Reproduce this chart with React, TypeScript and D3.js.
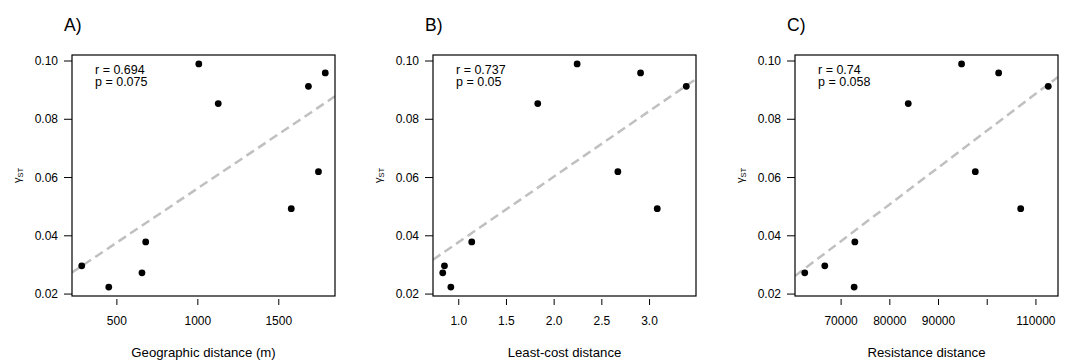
import React from "react";
import * as d3 from "d3";

// gamma_ST values (same order in all panels)
const gammaST = [0.099, 0.0854, 0.0913, 0.0959, 0.062, 0.0493, 0.0379, 0.0297, 0.0273, 0.0224];
const geographicDist = [1006, 1126, 1683, 1787, 1745, 1577, 678, 283, 655, 450];
const leastCostDist = [2.241, 1.828, 3.385, 2.906, 2.668, 3.081, 1.136, 0.85, 0.832, 0.917];
const resistanceDist = [94733, 83786, 112531, 102346, 97551, 106872, 72819, 66646, 62531, 72675];

const yTicks = [0.02, 0.04, 0.06, 0.08, 0.1];
const yTickLabels = ["0.02", "0.04", "0.06", "0.08", "0.10"];

const geoTicks = [500, 1000, 1500];
const geoTickLabels = ["500", "1000", "1500"];
const lcTicks = [1.0, 1.5, 2.0, 2.5, 3.0];
const lcTickLabels = ["1.0", "1.5", "2.0", "2.5", "3.0"];
const resTicks = [70000, 80000, 90000, 100000, 110000];
const resTickLabels = ["70000", "80000", "90000", "", "110000"];

const panelTitles = ["A)", "B)", "C)"];
const xTitles = ["Geographic distance (m)", "Least-cost distance", "Resistance distance"];
const rTexts = ["r = 0.694", "r = 0.737", "r = 0.74"];
const pTexts = ["p = 0.075", "p = 0.05", "p = 0.058"];

const FONT = "'Liberation Sans', Arial, Helvetica, sans-serif";

function padDomain(vals: number[]): [number, number] {
  const [lo, hi] = d3.extent(vals) as [number, number];
  const pad = (hi - lo) * 0.04;
  return [lo - pad, hi + pad];
}

interface PanelProps {
  left: number;
  xs: number[];
  ys: number[];
  xTicks: number[];
  xTickLabels: string[];
  title: string;
  xTitle: string;
  rText: string;
  pText: string;
  id: string;
}

function Panel({ left, xs, ys, xTicks, xTickLabels, title, xTitle, rText, pText, id }: PanelProps) {
  const top = 55;
  const bottom = 296;
  const width = 263;
  const right = left + width;
  const x = d3.scaleLinear().domain(padDomain(xs)).range([left, right]);
  const y = d3.scaleLinear().domain(padDomain(ys)).range([bottom, top]);

  // OLS fit
  const mx = d3.mean(xs) as number;
  const my = d3.mean(ys) as number;
  let sxy = 0;
  let sxx = 0;
  xs.forEach((xi, i) => {
    sxy += (xi - mx) * (ys[i] - my);
    sxx += (xi - mx) * (xi - mx);
  });
  const slope = sxy / sxx;
  const intercept = my - slope * mx;
  const [d0, d1] = x.domain();
  const line = d3.line<number>().x((v) => x(v)).y((v) => y(intercept + slope * v));
  const cy = (top + bottom) / 2;

  return (
    <g fontFamily={FONT}>
      <defs>
        <clipPath id={id}>
          <rect x={left} y={top} width={width} height={bottom - top} />
        </clipPath>
      </defs>
      <text x={left - 8} y={31} fontSize={17.5}>{title}</text>
      <path
        d={line([d0, d1]) || ""}
        stroke="#c0c0c0"
        strokeWidth={2.5}
        strokeDasharray="9,5"
        fill="none"
        clipPath={`url(#${id})`}
      />
      {xs.map((xi, i) => (
        <circle key={i} cx={x(xi)} cy={y(ys[i])} r={3.4} fill="#000" />
      ))}
      <rect x={left} y={top} width={width} height={bottom - top} fill="none" stroke="#000" strokeWidth={1.2} />
      {yTicks.map((t, i) => (
        <g key={i}>
          <line x1={left - 8} x2={left} y1={y(t)} y2={y(t)} stroke="#000" strokeWidth={1} />
          <text x={left - 14} y={y(t)} dy="0.35em" textAnchor="end" fontSize={12}>{yTickLabels[i]}</text>
        </g>
      ))}
      {xTicks.map((t, i) => (
        <g key={i}>
          <line x1={x(t)} x2={x(t)} y1={bottom + 3} y2={bottom + 9} stroke="#000" strokeWidth={1} />
          <text x={x(t)} y={325} textAnchor="middle" fontSize={12}>{xTickLabels[i]}</text>
        </g>
      ))}
      <text x={(left + right) / 2} y={357} textAnchor="middle" fontSize={13.2}>{xTitle}</text>
      <text transform={`translate(${left - 51},${cy}) rotate(-90)`} textAnchor="middle" fontSize={11}>
        γ<tspan fontSize={7.5} dy={2}>ST</tspan>
      </text>
      <text x={left + 23} y={74} fontSize={12.5}>{rText}</text>
      <text x={left + 23} y={86} fontSize={12.5}>{pText}</text>
    </g>
  );
}

export default function App() {
  const lefts = [72, 433, 795];
  const xsList = [geographicDist, leastCostDist, resistanceDist];
  const ticksList = [geoTicks, lcTicks, resTicks];
  const tickLabelsList = [geoTickLabels, lcTickLabels, resTickLabels];
  return (
    <svg
      width={1073}
      height={360}
      style={{ position: "absolute", left: 0, top: 0, background: "#fff" }}
    >
      <rect width={1073} height={360} fill="#fff" />
      {lefts.map((l, i) => (
        <Panel
          key={i}
          id={`clip${i}`}
          left={l}
          xs={xsList[i]}
          ys={gammaST}
          xTicks={ticksList[i]}
          xTickLabels={tickLabelsList[i]}
          title={panelTitles[i]}
          xTitle={xTitles[i]}
          rText={rTexts[i]}
          pText={pTexts[i]}
        />
      ))}
    </svg>
  );
}
